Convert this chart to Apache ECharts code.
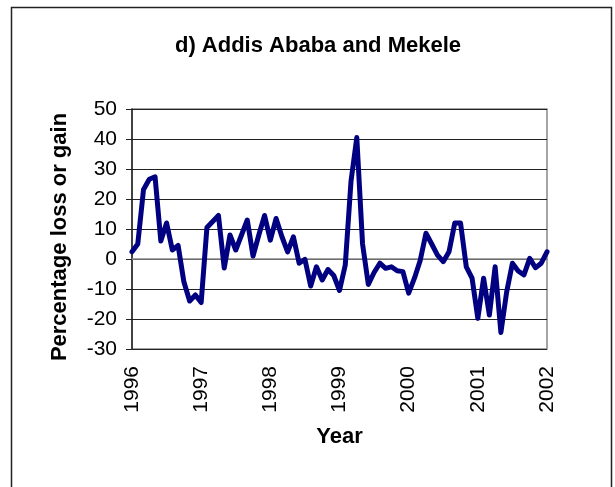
<!DOCTYPE html>
<html>
<head>
<meta charset="utf-8">
<script src="https://cdn.jsdelivr.net/npm/echarts@6/dist/echarts.min.js"></script>
<style>
  html, body { margin: 0; padding: 0; background: #fff; }
  #chart { width: 615px; height: 487px; }
</style>
</head>
<body>
<div id="chart"></div>
<script>
  // monthly points, Jan 1996 .. Jan 2002
  var years = ['1996', '1997', '1998', '1999', '2000', '2001', '2002'];
  var changeValues = [
    2.4, 5.0, 23.2, 26.6, 27.4, 6.0, 12.0, 3.0, 4.5, -7.6, -14.0, -12.0,
    -14.5, 10.5, 12.5, 14.5, -3.0, 8.0, 3.0, 8.0, 13.0, 1.0, 8.0, 14.5,
    6.3, 13.5, 7.5, 2.4, 7.4, -1.4, -0.1, -9.0, -2.6, -7.0, -3.5, -5.5,
    -10.5, -2.0, 26.0, 40.5, 5.0, -8.5, -4.5, -1.4, -3.1, -2.6, -3.9, -4.2,
    -11.4, -6.4, -0.5, 8.6, 5.0, 1.3, -0.9, 2.4, 12.0, 12.0, -2.6, -6.4,
    -19.8, -6.4, -18.7, -2.6, -24.5, -11.0, -1.4, -4.0, -5.3, 0.2, -2.9, -1.4,
    2.4
  ];

  // category per month, labelled with the year in January
  var months = [];
  for (var i = 0; i < changeValues.length; i++) {
    months.push(i % 12 === 0 ? years[i / 12] : '');
  }

  var myChart = echarts.init(document.getElementById('chart'));
  var option = {
    animation: false,
    backgroundColor: '#fff',
    textStyle: { fontFamily: 'Liberation Sans, Arial, sans-serif' },
    title: {
      text: 'd) Addis Ababa and Mekele',
      left: 313,
      textAlign: 'center',
      top: 30,
      textStyle: { fontSize: 22, fontWeight: 'bold', color: '#000' }
    },
    graphic: [{
      type: 'rect',
      shape: { x: 11.5, y: 7.5, width: 600, height: 500 },
      style: { fill: 'none', stroke: '#222', lineWidth: 1.5 },
      silent: true
    }],
    grid: {
      left: 132,
      right: 68,
      top: 109,
      bottom: 138,
      show: true,
      borderColor: '#888',
      borderWidth: 1.5
    },
    xAxis: {
      type: 'category',
      boundaryGap: false,
      data: months,
      name: 'Year',
      nameLocation: 'middle',
      nameGap: 77,
      nameTextStyle: { fontSize: 22, fontWeight: 'bold', color: '#000' },
      axisLine: { lineStyle: { color: '#888', width: 1.5 } },
      axisTick: { show: false },
      axisLabel: {
        interval: 11,
        rotate: 90,
        margin: 17,
        fontSize: 21,
        color: '#000'
      },
      splitLine: { show: false }
    },
    yAxis: {
      type: 'value',
      min: -30,
      max: 50,
      interval: 10,
      name: 'Percentage loss or gain',
      nameLocation: 'middle',
      nameGap: 61,
      nameTextStyle: { fontSize: 22, fontWeight: 'bold', color: '#000', padding: [0, 16, 0, 0] },
      axisLine: { show: true, lineStyle: { color: '#222', width: 1.5 } },
      axisTick: { show: true, inside: false, length: 6, lineStyle: { color: '#222' } },
      axisLabel: { margin: 15, fontSize: 21, color: '#000' },
      splitLine: { show: true, lineStyle: { color: '#222', width: 1 } }
    },
    series: [{
      name: 'change',
      type: 'line',
      data: changeValues,
      symbol: 'none',
      smooth: false,
      lineStyle: { color: '#000080', width: 5, join: 'round', cap: 'round' }
    }]
  };
  myChart.setOption(option);
</script>
</body>
</html>
